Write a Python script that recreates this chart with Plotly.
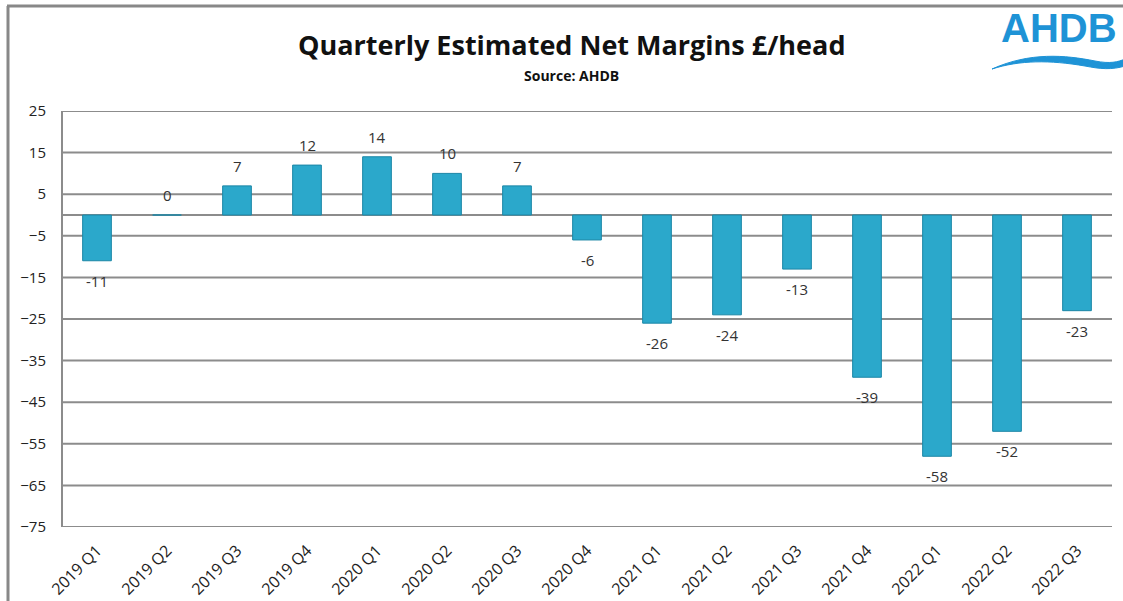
import plotly.graph_objects as go

categories = ["2019 Q1", "2019 Q2", "2019 Q3", "2019 Q4", "2020 Q1", "2020 Q2", "2020 Q3",
              "2020 Q4", "2021 Q1", "2021 Q2", "2021 Q3", "2021 Q4", "2022 Q1", "2022 Q2", "2022 Q3"]
margins = [-11, 0, 7, 12, 14, 10, 7, -6, -26, -24, -13, -39, -58, -52, -23]
tick_vals = [25, 15, 5, -5, -15, -25, -35, -45, -55, -65, -75]

W, H = 1123, 601
L, R, T, B = 62, 1112, 111, 527
FONT = "Open Sans, Liberation Sans, sans-serif"


def px(x):
    return (x - L) / (R - L)


def py(y):
    return (B - y) / (B - T)


fig = go.Figure()
fig.add_trace(go.Bar(
    x=categories, y=margins,
    marker=dict(color="#2BA8CB", line=dict(color="#1B86A6", width=1)),
    width=0.41,
))

annotations = []
for c, v in zip(categories, margins):
    annotations.append(dict(x=c, y=v, xref="x", yref="y", text=str(v), showarrow=False,
                            yshift=20 if v >= 0 else -20, yanchor="middle",
                            font=dict(family=FONT, size=15, color="#333333")))

shapes = []
for v in tick_vals + [0]:
    shapes.append(dict(type="line", xref="paper", yref="y", x0=0, x1=1, y0=v, y1=v,
                       line=dict(color="#8C8C8C", width=2), layer="below"))
shapes.append(dict(type="line", xref="paper", yref="paper", x0=0, x1=0, y0=0, y1=1,
                   line=dict(color="#8C8C8C", width=2)))
# frame of the picture
shapes.append(dict(type="line", xref="paper", yref="paper", x0=px(7), x1=px(1123), y0=py(6), y1=py(6),
                   line=dict(color="#888888", width=3)))
shapes.append(dict(type="line", xref="paper", yref="paper", x0=px(8), x1=px(8), y0=py(6), y1=py(601),
                   line=dict(color="#888888", width=3)))
# logo wave
wave = (f"M {px(992)},{py(69)} "
        f"C {px(1030)},{py(52)} {px(1065)},{py(55)} {px(1095)},{py(61)} "
        f"C {px(1110)},{py(64)} {px(1118)},{py(62)} {px(1125)},{py(59)} "
        f"L {px(1125)},{py(66)} "
        f"C {px(1112)},{py(70)} {px(1100)},{py(69)} {px(1085)},{py(66)} "
        f"C {px(1050)},{py(60)} {px(1020)},{py(60)} {px(992)},{py(69)} Z")
shapes.append(dict(type="path", xref="paper", yref="paper", path=wave,
                   fillcolor="#1E93D6", line=dict(color="#1E93D6", width=1)))

annotations += [
    dict(text="<b>Quarterly Estimated Net Margins £/head</b>", xref="paper", yref="paper",
         x=px(571), y=py(44), xanchor="center", yanchor="middle", showarrow=False,
         font=dict(family=FONT, size=27, color="#111111")),
    dict(text="<b>Source: AHDB</b>", xref="paper", yref="paper",
         x=px(571), y=py(75), xanchor="center", yanchor="middle", showarrow=False,
         font=dict(family=FONT, size=14, color="#111111")),
    dict(text="<b>AHDB</b>", xref="paper", yref="paper",
         x=px(999), y=py(28), xanchor="left", yanchor="middle", showarrow=False,
         font=dict(family="Liberation Sans, Arial, sans-serif", size=40, color="#1E93D6")),
]

fig.update_layout(
    width=W, height=H,
    margin=dict(l=L, r=W - R, t=T, b=H - B),
    paper_bgcolor="white", plot_bgcolor="white",
    showlegend=False,
    shapes=shapes, annotations=annotations,
    xaxis=dict(showgrid=False, showline=False, ticks="", tickangle=-45, ticklabelstandoff=10,
               automargin=False,
               tickfont=dict(family=FONT, size=16, color="#222222")),
    yaxis=dict(range=[-75, 25], tickvals=tick_vals, showgrid=False, zeroline=False, showline=False,
               ticks="", ticklabelstandoff=15, automargin=False,
               tickfont=dict(family=FONT, size=15, color="#222222")),
)

fig.write_html("out.html")
